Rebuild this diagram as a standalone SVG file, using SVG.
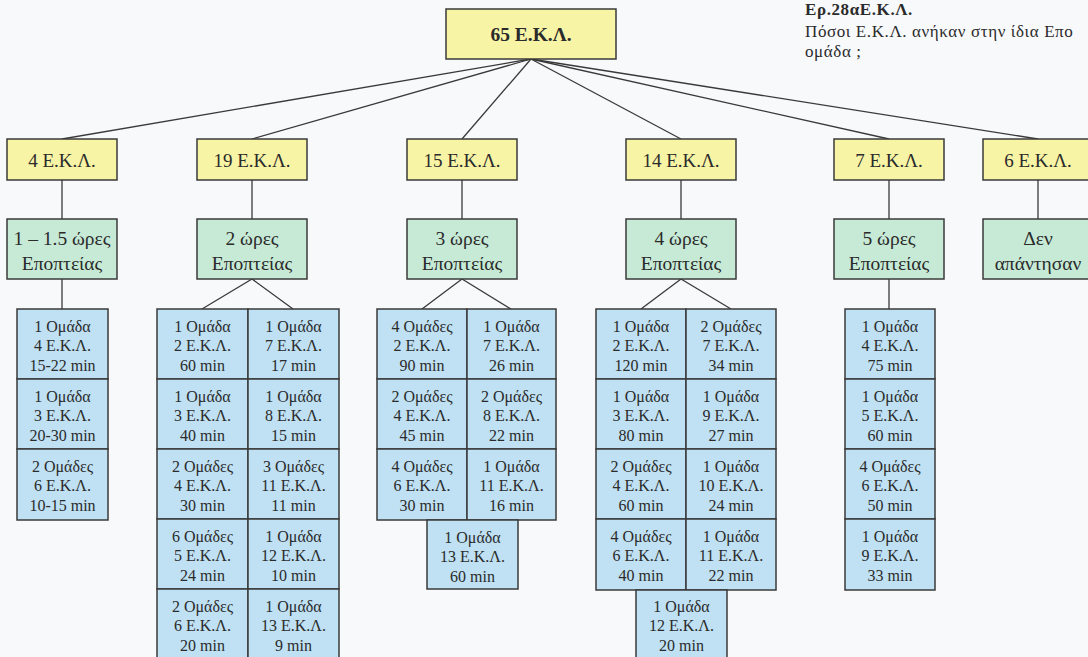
<svg xmlns="http://www.w3.org/2000/svg" width="1088" height="657" viewBox="0 0 1088 657">
  <style>
    text { font-family: "Liberation Serif", "Times New Roman", serif; fill: #2b2b2b; text-anchor: middle; }
    .root { fill: #f8f4a6; stroke: #3a3a3a; stroke-width: 1.5; }
    .count { fill: #f8f4a6; stroke: #3a3a3a; stroke-width: 1.5; }
    .hours { fill: #c6ead6; stroke: #3a3a3a; stroke-width: 1.5; }
    .cell { fill: #bfe1f3; stroke: #3a3a3a; stroke-width: 1.5; }
    .t-root { font-size: 19.5px; font-weight: bold; }
    .t-count { font-size: 19px; }
    .t-hours { font-size: 19.5px; }
    .t-cell { font-size: 16px; }
    .note { text-anchor: start; font-size: 17px; letter-spacing: 0.6px; }
    .edge { stroke: #3a3a3a; stroke-width: 1.3; fill: none; }
  </style>

  <rect width="1088" height="657" fill="#f8f9fb"/>

  <!-- caption -->
  <g id="caption">
    <text class="note" x="805" y="15" font-weight="bold">Ερ.28αΕ.Κ.Λ.</text>
    <text class="note" x="805" y="37">Πόσοι Ε.Κ.Λ. ανήκαν στην ίδια Επο</text>
    <text class="note" x="805" y="57">ομάδα ;</text>
  </g>

  <!-- connectors -->
  <g id="connectors" class="edge">
    <line x1="531" y1="59" x2="62" y2="139"/>
    <line x1="531" y1="59" x2="252" y2="139"/>
    <line x1="531" y1="59" x2="462" y2="139"/>
    <line x1="531" y1="59" x2="681" y2="139"/>
    <line x1="531" y1="59" x2="889" y2="139"/>
    <line x1="531" y1="59" x2="1038" y2="139"/>

    <line x1="62" y1="180" x2="62" y2="219"/>
    <line x1="252" y1="180" x2="252" y2="219"/>
    <line x1="462" y1="180" x2="462" y2="219"/>
    <line x1="681" y1="180" x2="681" y2="219"/>
    <line x1="889" y1="180" x2="889" y2="219"/>
    <line x1="1038" y1="180" x2="1038" y2="219"/>

    <line x1="62" y1="279" x2="62" y2="309"/>
    <polyline points="202,309 252,279 293,309"/>
    <polyline points="422,309 462,279 511,309"/>
    <polyline points="641,309 681,279 731,309"/>
    <line x1="889" y1="279" x2="889" y2="309"/>
  </g>

  <!-- root -->
  <g id="root">
    <rect class="root" x="446" y="9" width="170" height="50"/>
    <text class="t-root" x="531" y="41">65 Ε.Κ.Λ.</text>
  </g>

  <!-- counts per supervision length -->
  <g id="n4">
    <rect class="count" x="7" y="139" width="110" height="41"/>
    <text class="t-count" x="62" y="167">4 Ε.Κ.Λ.</text>
  </g>
  <g id="n19">
    <rect class="count" x="197" y="139" width="110" height="41"/>
    <text class="t-count" x="252" y="167">19 Ε.Κ.Λ.</text>
  </g>
  <g id="n15">
    <rect class="count" x="407" y="139" width="110" height="41"/>
    <text class="t-count" x="462" y="167">15 Ε.Κ.Λ.</text>
  </g>
  <g id="n14">
    <rect class="count" x="626" y="139" width="110" height="41"/>
    <text class="t-count" x="681" y="167">14 Ε.Κ.Λ.</text>
  </g>
  <g id="n7">
    <rect class="count" x="834" y="139" width="110" height="41"/>
    <text class="t-count" x="889" y="167">7 Ε.Κ.Λ.</text>
  </g>
  <g id="n6">
    <rect class="count" x="983" y="139" width="110" height="41"/>
    <text class="t-count" x="1038" y="167">6 Ε.Κ.Λ.</text>
  </g>

  <!-- supervision hours -->
  <g id="h1">
    <rect class="hours" x="7" y="219" width="110" height="60"/>
    <text class="t-hours" x="62" y="245">1 – 1.5 ώρες</text>
    <text class="t-hours" x="62" y="270">Εποπτείας</text>
  </g>
  <g id="h2">
    <rect class="hours" x="197" y="219" width="110" height="60"/>
    <text class="t-hours" x="252" y="245">2 ώρες</text>
    <text class="t-hours" x="252" y="270">Εποπτείας</text>
  </g>
  <g id="h3">
    <rect class="hours" x="407" y="219" width="110" height="60"/>
    <text class="t-hours" x="462" y="245">3 ώρες</text>
    <text class="t-hours" x="462" y="270">Εποπτείας</text>
  </g>
  <g id="h4">
    <rect class="hours" x="626" y="219" width="110" height="60"/>
    <text class="t-hours" x="681" y="245">4 ώρες</text>
    <text class="t-hours" x="681" y="270">Εποπτείας</text>
  </g>
  <g id="h5">
    <rect class="hours" x="834" y="219" width="110" height="60"/>
    <text class="t-hours" x="889" y="245">5 ώρες</text>
    <text class="t-hours" x="889" y="270">Εποπτείας</text>
  </g>
  <g id="h-none">
    <rect class="hours" x="983" y="219" width="110" height="60"/>
    <text class="t-hours" x="1038" y="245">Δεν</text>
    <text class="t-hours" x="1038" y="270">απάντησαν</text>
  </g>

  <!-- group tables: 1 – 1.5 hours -->
  <g id="g1">
    <rect class="cell" x="17" y="309" width="91" height="70"/>
    <text class="t-cell" x="62.5" y="332">1 Ομάδα</text><text class="t-cell" x="62.5" y="351">4 Ε.Κ.Λ.</text><text class="t-cell" x="62.5" y="371">15-22 min</text>
    <rect class="cell" x="17" y="379" width="91" height="70"/>
    <text class="t-cell" x="62.5" y="402">1 Ομάδα</text><text class="t-cell" x="62.5" y="421">3 Ε.Κ.Λ.</text><text class="t-cell" x="62.5" y="441">20-30 min</text>
    <rect class="cell" x="17" y="449" width="91" height="71"/>
    <text class="t-cell" x="62.5" y="472">2 Ομάδες</text><text class="t-cell" x="62.5" y="491">6 Ε.Κ.Λ.</text><text class="t-cell" x="62.5" y="511">10-15 min</text>
  </g>

  <!-- group tables: 2 hours -->
  <g id="g2">
    <rect class="cell" x="157" y="309" width="91" height="70"/>
    <text class="t-cell" x="202.5" y="332">1 Ομάδα</text><text class="t-cell" x="202.5" y="351">2 Ε.Κ.Λ.</text><text class="t-cell" x="202.5" y="371">60 min</text>
    <rect class="cell" x="248" y="309" width="91" height="70"/>
    <text class="t-cell" x="293.5" y="332">1 Ομάδα</text><text class="t-cell" x="293.5" y="351">7 Ε.Κ.Λ.</text><text class="t-cell" x="293.5" y="371">17 min</text>
    <rect class="cell" x="157" y="379" width="91" height="70"/>
    <text class="t-cell" x="202.5" y="402">1 Ομάδα</text><text class="t-cell" x="202.5" y="421">3 Ε.Κ.Λ.</text><text class="t-cell" x="202.5" y="441">40 min</text>
    <rect class="cell" x="248" y="379" width="91" height="70"/>
    <text class="t-cell" x="293.5" y="402">1 Ομάδα</text><text class="t-cell" x="293.5" y="421">8 Ε.Κ.Λ.</text><text class="t-cell" x="293.5" y="441">15 min</text>
    <rect class="cell" x="157" y="449" width="91" height="70"/>
    <text class="t-cell" x="202.5" y="472">2 Ομάδες</text><text class="t-cell" x="202.5" y="491">4 Ε.Κ.Λ.</text><text class="t-cell" x="202.5" y="511">30 min</text>
    <rect class="cell" x="248" y="449" width="91" height="70"/>
    <text class="t-cell" x="293.5" y="472">3 Ομάδες</text><text class="t-cell" x="293.5" y="491">11 Ε.Κ.Λ.</text><text class="t-cell" x="293.5" y="511">11 min</text>
    <rect class="cell" x="157" y="519" width="91" height="70"/>
    <text class="t-cell" x="202.5" y="542">6 Ομάδες</text><text class="t-cell" x="202.5" y="561">5 Ε.Κ.Λ.</text><text class="t-cell" x="202.5" y="581">24 min</text>
    <rect class="cell" x="248" y="519" width="91" height="70"/>
    <text class="t-cell" x="293.5" y="542">1 Ομάδα</text><text class="t-cell" x="293.5" y="561">12 Ε.Κ.Λ.</text><text class="t-cell" x="293.5" y="581">10 min</text>
    <rect class="cell" x="157" y="589" width="91" height="70"/>
    <text class="t-cell" x="202.5" y="612">2 Ομάδες</text><text class="t-cell" x="202.5" y="631">6 Ε.Κ.Λ.</text><text class="t-cell" x="202.5" y="651">20 min</text>
    <rect class="cell" x="248" y="589" width="91" height="70"/>
    <text class="t-cell" x="293.5" y="612">1 Ομάδα</text><text class="t-cell" x="293.5" y="631">13 Ε.Κ.Λ.</text><text class="t-cell" x="293.5" y="651">9 min</text>
  </g>

  <!-- group tables: 3 hours -->
  <g id="g3">
    <rect class="cell" x="377" y="309" width="90" height="70"/>
    <text class="t-cell" x="422" y="332">4 Ομάδες</text><text class="t-cell" x="422" y="351">2 Ε.Κ.Λ.</text><text class="t-cell" x="422" y="371">90 min</text>
    <rect class="cell" x="467" y="309" width="89" height="70"/>
    <text class="t-cell" x="511.5" y="332">1 Ομάδα</text><text class="t-cell" x="511.5" y="351">7 Ε.Κ.Λ.</text><text class="t-cell" x="511.5" y="371">26 min</text>
    <rect class="cell" x="377" y="379" width="90" height="70"/>
    <text class="t-cell" x="422" y="402">2 Ομάδες</text><text class="t-cell" x="422" y="421">4 Ε.Κ.Λ.</text><text class="t-cell" x="422" y="441">45 min</text>
    <rect class="cell" x="467" y="379" width="89" height="70"/>
    <text class="t-cell" x="511.5" y="402">2 Ομάδες</text><text class="t-cell" x="511.5" y="421">8 Ε.Κ.Λ.</text><text class="t-cell" x="511.5" y="441">22 min</text>
    <rect class="cell" x="377" y="449" width="90" height="71"/>
    <text class="t-cell" x="422" y="472">4 Ομάδες</text><text class="t-cell" x="422" y="491">6 Ε.Κ.Λ.</text><text class="t-cell" x="422" y="511">30 min</text>
    <rect class="cell" x="467" y="449" width="89" height="71"/>
    <text class="t-cell" x="511.5" y="472">1 Ομάδα</text><text class="t-cell" x="511.5" y="491">11 Ε.Κ.Λ.</text><text class="t-cell" x="511.5" y="511">16 min</text>
    <rect class="cell" x="427" y="520" width="91" height="69"/>
    <text class="t-cell" x="472.5" y="543">1 Ομάδα</text><text class="t-cell" x="472.5" y="562">13 Ε.Κ.Λ.</text><text class="t-cell" x="472.5" y="582">60 min</text>
  </g>

  <!-- group tables: 4 hours -->
  <g id="g4">
    <rect class="cell" x="596" y="309" width="90" height="70"/>
    <text class="t-cell" x="641" y="332">1 Ομάδα</text><text class="t-cell" x="641" y="351">2 Ε.Κ.Λ.</text><text class="t-cell" x="641" y="371">120 min</text>
    <rect class="cell" x="686" y="309" width="90" height="70"/>
    <text class="t-cell" x="731" y="332">2 Ομάδες</text><text class="t-cell" x="731" y="351">7 Ε.Κ.Λ.</text><text class="t-cell" x="731" y="371">34 min</text>
    <rect class="cell" x="596" y="379" width="90" height="70"/>
    <text class="t-cell" x="641" y="402">1 Ομάδα</text><text class="t-cell" x="641" y="421">3 Ε.Κ.Λ.</text><text class="t-cell" x="641" y="441">80 min</text>
    <rect class="cell" x="686" y="379" width="90" height="70"/>
    <text class="t-cell" x="731" y="402">1 Ομάδα</text><text class="t-cell" x="731" y="421">9 Ε.Κ.Λ.</text><text class="t-cell" x="731" y="441">27 min</text>
    <rect class="cell" x="596" y="449" width="90" height="70"/>
    <text class="t-cell" x="641" y="472">2 Ομάδες</text><text class="t-cell" x="641" y="491">4 Ε.Κ.Λ.</text><text class="t-cell" x="641" y="511">60 min</text>
    <rect class="cell" x="686" y="449" width="90" height="70"/>
    <text class="t-cell" x="731" y="472">1 Ομάδα</text><text class="t-cell" x="731" y="491">10 Ε.Κ.Λ.</text><text class="t-cell" x="731" y="511">24 min</text>
    <rect class="cell" x="596" y="519" width="90" height="71"/>
    <text class="t-cell" x="641" y="542">4 Ομάδες</text><text class="t-cell" x="641" y="561">6 Ε.Κ.Λ.</text><text class="t-cell" x="641" y="581">40 min</text>
    <rect class="cell" x="686" y="519" width="90" height="71"/>
    <text class="t-cell" x="731" y="542">1 Ομάδα</text><text class="t-cell" x="731" y="561">11 Ε.Κ.Λ.</text><text class="t-cell" x="731" y="581">22 min</text>
    <rect class="cell" x="636" y="590" width="91" height="70"/>
    <text class="t-cell" x="681.5" y="612">1 Ομάδα</text><text class="t-cell" x="681.5" y="631">12 Ε.Κ.Λ.</text><text class="t-cell" x="681.5" y="651">20 min</text>
  </g>

  <!-- group tables: 5 hours -->
  <g id="g5">
    <rect class="cell" x="845" y="309" width="90" height="70"/>
    <text class="t-cell" x="890" y="332">1 Ομάδα</text><text class="t-cell" x="890" y="351">4 Ε.Κ.Λ.</text><text class="t-cell" x="890" y="371">75 min</text>
    <rect class="cell" x="845" y="379" width="90" height="70"/>
    <text class="t-cell" x="890" y="402">1 Ομάδα</text><text class="t-cell" x="890" y="421">5 Ε.Κ.Λ.</text><text class="t-cell" x="890" y="441">60 min</text>
    <rect class="cell" x="845" y="449" width="90" height="70"/>
    <text class="t-cell" x="890" y="472">4 Ομάδες</text><text class="t-cell" x="890" y="491">6 Ε.Κ.Λ.</text><text class="t-cell" x="890" y="511">50 min</text>
    <rect class="cell" x="845" y="519" width="90" height="71"/>
    <text class="t-cell" x="890" y="542">1 Ομάδα</text><text class="t-cell" x="890" y="561">9 Ε.Κ.Λ.</text><text class="t-cell" x="890" y="581">33 min</text>
  </g>
</svg>
